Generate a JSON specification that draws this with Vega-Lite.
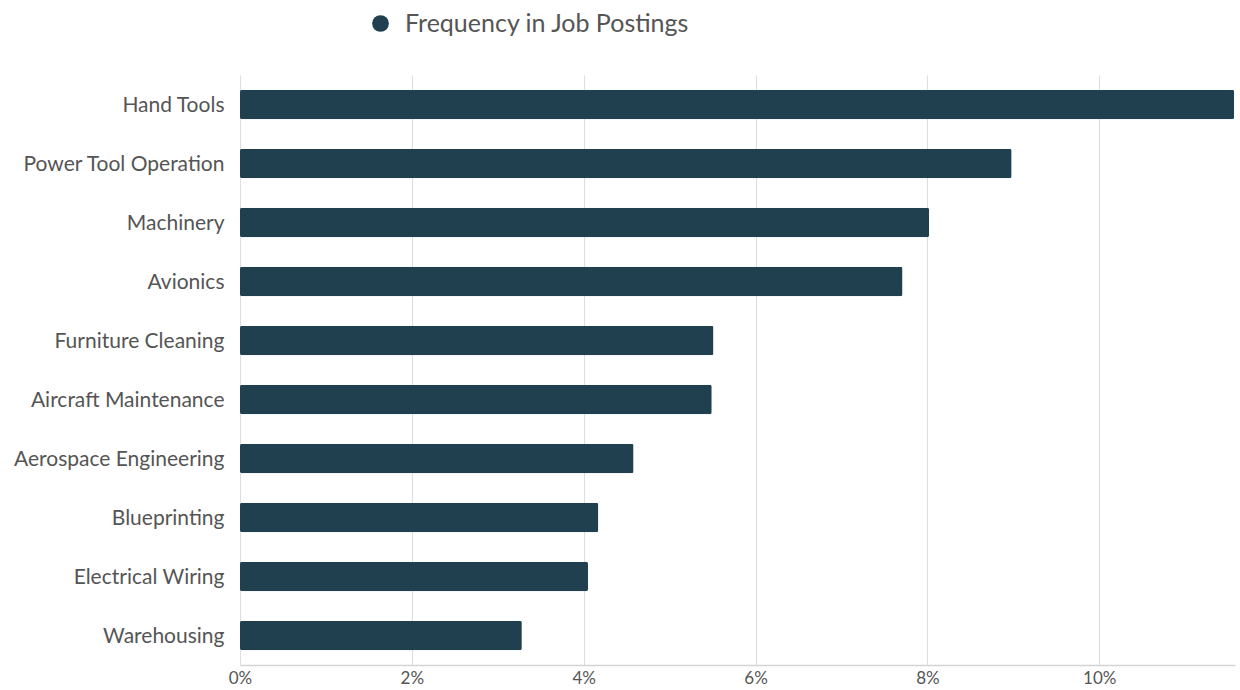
{
  "$schema": "https://vega.github.io/schema/vega-lite/v6.json",
  "width": 995,
  "height": 590,
  "autosize": {"type": "none"},
  "padding": {"left": 240, "top": 75, "right": 5, "bottom": 25},
  "background": "white",
  "config": {
    "font": "Lato",
    "view": {"stroke": null}
  },
  "data": {
    "values": [
      {"skill": "Hand Tools", "value": 0.1157, "series": "Frequency in Job Postings"},
      {"skill": "Power Tool Operation", "value": 0.0898, "series": "Frequency in Job Postings"},
      {"skill": "Machinery", "value": 0.0802, "series": "Frequency in Job Postings"},
      {"skill": "Avionics", "value": 0.0771, "series": "Frequency in Job Postings"},
      {"skill": "Furniture Cleaning", "value": 0.0551, "series": "Frequency in Job Postings"},
      {"skill": "Aircraft Maintenance", "value": 0.0549, "series": "Frequency in Job Postings"},
      {"skill": "Aerospace Engineering", "value": 0.0458, "series": "Frequency in Job Postings"},
      {"skill": "Blueprinting", "value": 0.0417, "series": "Frequency in Job Postings"},
      {"skill": "Electrical Wiring", "value": 0.0405, "series": "Frequency in Job Postings"},
      {"skill": "Warehousing", "value": 0.0328, "series": "Frequency in Job Postings"}
    ]
  },
  "mark": {"type": "bar", "cornerRadius": 2},
  "encoding": {
    "y": {
      "field": "skill",
      "type": "nominal",
      "sort": null,
      "scale": {"paddingInner": 0.5, "paddingOuter": 0.25},
      "axis": {
        "title": null,
        "domain": false,
        "ticks": false,
        "labelFontSize": 21,
        "labelColor": "#555555",
        "labelPadding": 16,
        "labelOffset": 1.5,
        "labelLimit": 300
      }
    },
    "x": {
      "field": "value",
      "type": "quantitative",
      "scale": {"domain": [0, 0.1158], "nice": false},
      "axis": {
        "title": null,
        "format": ".0%",
        "values": [0, 0.02, 0.04, 0.06, 0.08, 0.1],
        "grid": true,
        "gridColor": "#dddddd",
        "domainColor": "#d4d4d4",
        "domainWidth": 1.5,
        "ticks": false,
        "labelFlush": false,
        "labelFontSize": 17,
        "labelColor": "#555555",
        "labelPadding": 5
      }
    },
    "color": {
      "field": "series",
      "type": "nominal",
      "scale": {"range": ["#21404f"]},
      "legend": {
        "title": null,
        "orient": "none",
        "legendX": 128,
        "legendY": -64,
        "symbolType": "circle",
        "symbolSize": 280,
        "labelFontSize": 25,
        "labelColor": "#555555",
        "labelOffset": 12,
        "labelLimit": 500
      }
    }
  }
}
